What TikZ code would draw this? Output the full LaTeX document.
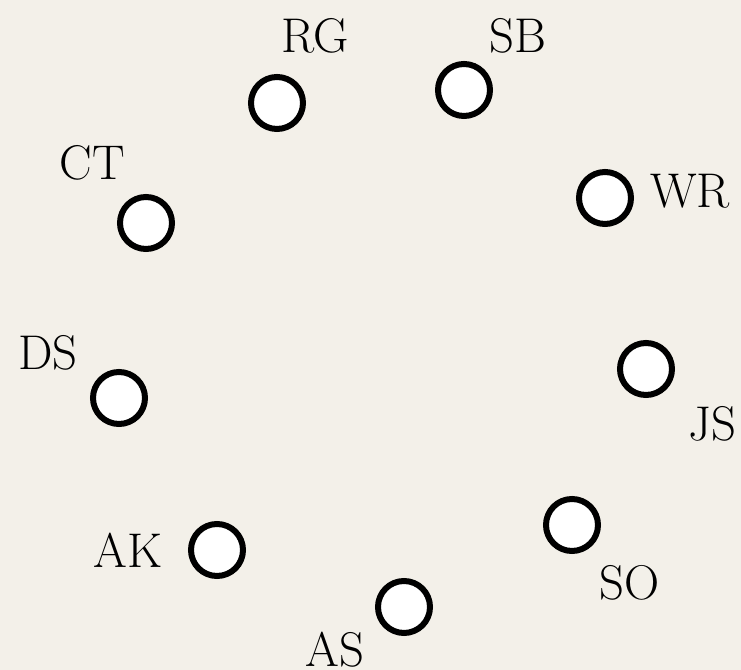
\documentclass[tikz,border=0pt]{standalone}
\usepackage{xcolor}
\usepackage{tikz}
\usetikzlibrary{positioning}
\definecolor{paper}{RGB}{243,240,233}

\begin{document}
\begin{tikzpicture}[
      x=0.4pt, y=-0.4pt,
      person/.style={circle, draw=black, fill=white, line width=2.4pt, minimum size=20.8pt, inner sep=0pt},
      tag/.style={inner sep=0pt, font=\fontsize{19.5}{23}\selectfont}
    ]
      % Background
      \fill[paper] (0,0) rectangle (741,670);
      \useasboundingbox (0,0) rectangle (741,670);

      % People
      \node[person] (rg) at (277,103) {};
      \node[person] (sb) at (464,90) {};
      \node[person] (ct) at (146,223) {};
      \node[person] (wr) at (605,198) {};
      \node[person] (ds) at (119,398) {};
      \node[person] (js) at (646,369) {};
      \node[person] (ak) at (217,550) {};
      \node[person] (so) at (572,525) {};
      \node[person] (as) at (404,607) {};

      % Names
      \node[tag] (rgname) at (315,36) {RG};
      \node[tag] (sbname) at (518,36) {SB};
      \node[tag] (ctname) at (92,163) {CT};
      \node[tag] (wrname) at (690,191) {WR};
      \node[tag] (dsname) at (48,353) {DS};
      \node[tag] (jsname) at (712,424) {JS};
      \node[tag] (akname) at (128,550) {AK};
      \node[tag] (soname) at (630,583) {SO};
      \node[tag] (asname) at (335,650) {AS};

    \end{tikzpicture}
\end{document}
